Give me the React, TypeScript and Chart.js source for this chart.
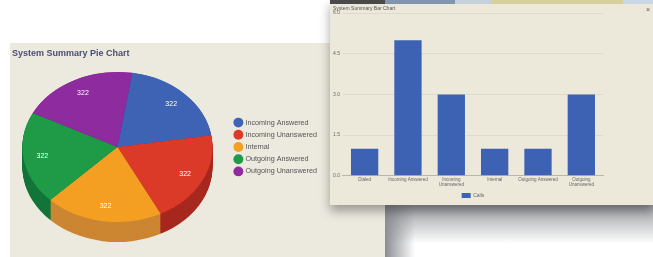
import React, { useEffect, useRef } from "react";
import { Chart, registerables } from "chart.js";

Chart.register(...registerables);

// ---- Pie data ----
const pieLabels = [
  "Incoming Answered",
  "Incoming Unanswered",
  "Internal",
  "Outgoing Answered",
  "Outgoing Unanswered",
];
const pieValues = [322, 322, 322, 322, 322];
const pieColors = ["#3E62B4", "#DC3A28", "#F59F22", "#1F9A47", "#8E2B9E"];
const pieSideColors = ["#2C4A8C", "#A7281F", "#CC8632", "#14753A", "#6C1F7A"];

// ---- Bar data ----
const barLabels: (string | string[])[] = [
  "Dialed",
  "Incoming Answered",
  ["Incoming", "Unanswered"],
  "Internal",
  "Outgoing Answered",
  ["Outgoing", "Unanswered"],
];
const barValues = [1, 5, 3, 1, 1, 3];
const barSeriesName = "Calls";
const yMax = 6;
const yStep = 1.5;

const SQUASH = 0.79;
const DEPTH = 20;

const pie3dPlugin = {
  id: "pie3d",
  beforeDatasetsDraw(chart: any) {
    const ctx = chart.ctx;
    const meta = chart.getDatasetMeta(0);
    const first = meta.data[0];
    if (!first) return;
    const cy = first.y;
    ctx.save();
    ctx.translate(0, cy * (1 - SQUASH));
    ctx.scale(1, SQUASH);
    const d = DEPTH / SQUASH;
    for (let off = d; off > 0; off -= 1) {
      meta.data.forEach((arc: any, i: number) => {
        const p = arc.getProps(["x", "y", "startAngle", "endAngle", "outerRadius"], true);
        ctx.beginPath();
        ctx.moveTo(p.x, p.y + off);
        ctx.arc(p.x, p.y + off, p.outerRadius, p.startAngle, p.endAngle);
        ctx.closePath();
        ctx.fillStyle = pieSideColors[i];
        ctx.fill();
      });
    }
  },
  afterDatasetsDraw(chart: any) {
    const ctx = chart.ctx;
    ctx.restore();
    const meta = chart.getDatasetMeta(0);
    ctx.save();
    ctx.fillStyle = "#ffffff";
    ctx.font = "7px 'Liberation Sans', Arial, sans-serif";
    ctx.textAlign = "center";
    ctx.textBaseline = "middle";
    meta.data.forEach((arc: any, i: number) => {
      const p = arc.getProps(["x", "y", "startAngle", "endAngle", "outerRadius"], true);
      const mid = (p.startAngle + p.endAngle) / 2;
      const r = p.outerRadius * 0.8;
      const x = p.x + Math.cos(mid) * r;
      const y = p.y + Math.sin(mid) * r * SQUASH;
      ctx.fillText(String(pieValues[i]), x, y);
    });
    ctx.restore();
  },
};

export default function App() {
  const pieRef = useRef<HTMLCanvasElement>(null);
  const barRef = useRef<HTMLCanvasElement>(null);

  useEffect(() => {
    const pie = new Chart(pieRef.current!, {
      type: "pie",
      data: {
        labels: pieLabels,
        datasets: [
          {
            data: pieValues,
            backgroundColor: pieColors,
            borderWidth: 0,
          },
        ],
      },
      options: {
        animation: false,
        responsive: false,
        rotation: 9,
        layout: { padding: { left: 0, top: 9, bottom: 15, right: 4 } },
        plugins: {
          tooltip: { enabled: false },
          legend: {
            position: "right",
            labels: {
              usePointStyle: true,
              pointStyle: "circle",
              boxWidth: 7,
              boxHeight: 7,
              padding: 5,
              color: "#555555",
              font: { size: 7.2, family: "'Liberation Sans', Arial, sans-serif" },
            },
          },
        },
      },
      plugins: [pie3dPlugin],
    });

    const bar = new Chart(barRef.current!, {
      type: "bar",
      data: {
        labels: barLabels as any,
        datasets: [
          {
            label: barSeriesName,
            data: barValues,
            backgroundColor: "#3D62B3",
            borderWidth: 0,
            categoryPercentage: 0.63,
            barPercentage: 1,
          },
        ],
      },
      options: {
        animation: false,
        responsive: false,
        layout: { padding: { left: 0, top: 13, right: 50, bottom: 0 } },
        scales: {
          x: {
            grid: { display: false, drawTicks: false },
            border: { color: "#b9b6aa" },
            ticks: {
              color: "#666",
              maxRotation: 0,
              autoSkip: false,
              padding: 1,
              font: { size: 4.5, lineHeight: 1.25, family: "'Liberation Sans', Arial, sans-serif" },
            },
          },
          y: {
            min: 0,
            max: yMax,
            ticks: {
              stepSize: yStep,
              color: "#666",
              padding: 3,
              callback: (v: any) => Number(v).toFixed(1),
              font: { size: 5, family: "'Liberation Sans', Arial, sans-serif" },
            },
            grid: { color: "rgba(0,0,0,0.06)", drawTicks: false },
            border: { display: false },
          },
        },
        plugins: {
          tooltip: { enabled: false },
          legend: {
            position: "bottom",
            fullSize: false,
            labels: {
              boxWidth: 9,
              boxHeight: 5,
              padding: 4,
              color: "#666",
              font: { size: 5, family: "'Liberation Sans', Arial, sans-serif" },
            },
          },
        },
      },
    });

    return () => {
      pie.destroy();
      bar.destroy();
    };
  }, []);

  return (
    <div
      style={{
        position: "fixed",
        left: 0,
        top: 0,
        width: 653,
        height: 257,
        overflow: "hidden",
        background: "#ffffff",
        fontFamily: "'Liberation Sans', Arial, sans-serif",
      }}
    >
      {/* shadow/backdrop below the bar window */}
      <div
        style={{
          position: "absolute",
          left: 385,
          top: 204,
          width: 268,
          height: 53,
          background: "linear-gradient(to bottom, #9c9ea2 0%, #c9cacc 35%, #ffffff 75%)",
        }}
      />
      <div
        style={{
          position: "absolute",
          left: 385,
          top: 204,
          width: 30,
          height: 53,
          background: "linear-gradient(to right, #8b8d91 0%, rgba(255,255,255,0) 100%)",
        }}
      />

      {/* Pie window */}
      <div
        style={{
          position: "absolute",
          left: 10,
          top: 43,
          width: 375,
          height: 214,
          background: "#ECE9DF",
          overflow: "hidden",
        }}
      >
        <canvas
          ref={pieRef}
          width={326}
          height={214}
          style={{ position: "absolute", left: -5, top: 0, width: 326, height: 214 }}
        />
        <div
          style={{
            position: "absolute",
            left: 2,
            top: 5,
            fontSize: 9,
            fontWeight: "bold",
            color: "#4A4E74",
            whiteSpace: "nowrap",
          }}
        >
          System Summary Pie Chart
        </div>
      </div>

      {/* Bar window */}
      <div
        style={{
          position: "absolute",
          left: 330,
          top: 0,
          width: 323,
          height: 205,
          background: "#ECE8DA",
          boxShadow: "0 6px 10px rgba(0,0,0,0.35)",
        }}
      >
        <div style={{ position: "absolute", left: 0, top: 0, width: 323, height: 4, display: "flex" }}>
          <div style={{ width: 55, background: "#4a4a4c" }} />
          <div style={{ width: 70, background: "#7f95b0" }} />
          <div style={{ width: 36, background: "#c5d1dd" }} />
          <div style={{ width: 132, background: "#d6d09a" }} />
          <div style={{ width: 30, background: "#c9d8e6" }} />
        </div>
        <canvas
          ref={barRef}
          width={323}
          height={208}
          style={{ position: "absolute", left: 0, top: 0, width: 323, height: 208 }}
        />
        <div
          style={{
            position: "absolute",
            left: 3,
            top: 5,
            fontSize: 5,
            color: "#555",
            whiteSpace: "nowrap",
          }}
        >
          System Summary Bar Chart
        </div>
        <div
          style={{
            position: "absolute",
            left: 316,
            top: 6,
            fontSize: 7,
            color: "#555",
          }}
        >
          ×
        </div>
      </div>
    </div>
  );
}
